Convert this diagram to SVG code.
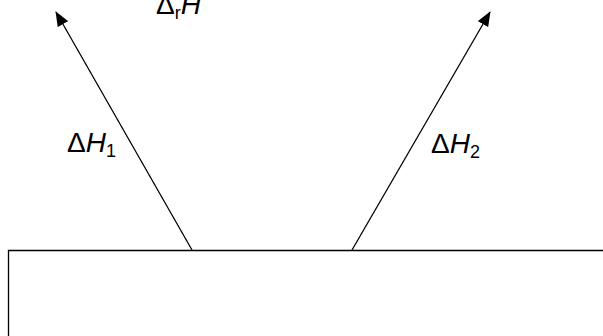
<svg xmlns="http://www.w3.org/2000/svg" width="603" height="336" viewBox="0 0 603 336">
<style>
.t{font-family:"Liberation Sans","DejaVu Sans",sans-serif;font-size:28px;fill:#000}
.i{font-style:italic}
.s{font-size:18px}
.ln{stroke:#000;stroke-width:1.3;fill:none}
</style>
<defs>
<marker id="ah" viewBox="0 0 15 12" refX="14" refY="6" markerWidth="15" markerHeight="12" markerUnits="userSpaceOnUse" orient="auto">
<path d="M0,0 L15,6 L0,12 z" fill="#000"/>
</marker>
</defs>
<rect width="603" height="336" fill="#fff"/>
<g id="box"><path class="ln" d="M8.5,340 L8.5,250.5 L610,250.5"/></g>
<g id="connectors">
<line class="ln" x1="192" y1="250" x2="56" y2="12" marker-end="url(#ah)"/>
<line class="ln" x1="352" y1="250" x2="490" y2="12" marker-end="url(#ah)"/>
</g>
<g id="labels">
<text class="t" x="156" y="14">Δ<tspan class="s" dy="5">r</tspan><tspan class="i" dy="-5">H</tspan></text>
<text class="t" x="67" y="152">Δ<tspan class="i">H</tspan><tspan class="s" dy="5">1</tspan></text>
<text class="t" x="431" y="153">Δ<tspan class="i">H</tspan><tspan class="s" dy="5">2</tspan></text>
</g>
</svg>
